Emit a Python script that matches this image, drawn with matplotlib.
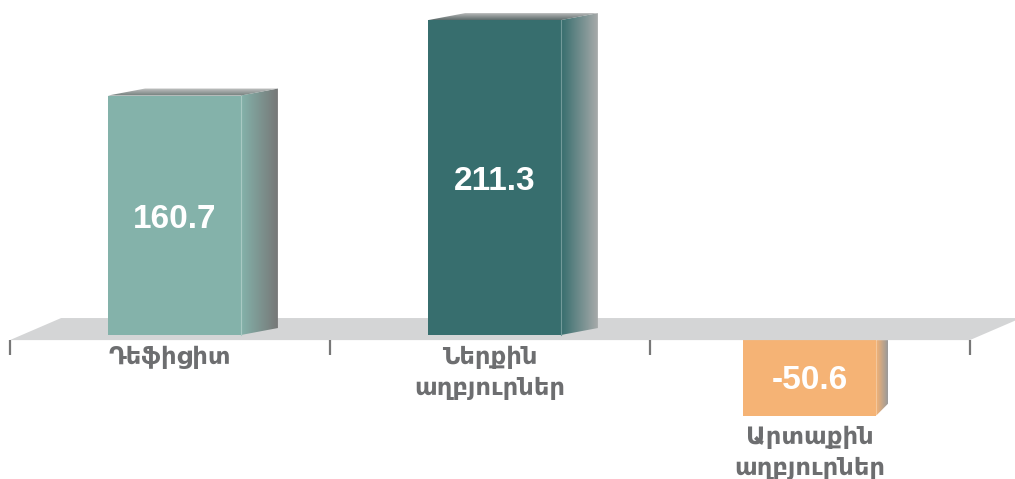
import numpy as np
import matplotlib
matplotlib.use("Agg")
import matplotlib.pyplot as plt
from matplotlib.colors import to_rgb, LinearSegmentedColormap
from matplotlib.patches import Polygon

categories = ["Դեֆիցիտ", "Ներքին\nաղբյուրներ", "Արտաքին\nաղբյուրներ"]
values = [160.7, 211.3, -50.6]
value_labels = ["160.7", "211.3", "-50.6"]
colors = ["#84b2aa", "#376e6e", "#f5b375"]
side_grays = ["#767676", "#a9abab", "#9a9a9a"]

plt.rcParams["font.family"] = ["Liberation Sans", "DejaVu Sans"]

fig = plt.figure(figsize=(10.15, 4.79), dpi=100)
ax = fig.add_axes([0, 0, 1, 1])
ax.set_xlim(-0.531, 2.641)
ax.set_ylim(-96.6, 224.8)
ax.axis("off")

bar_w = 0.415
pos_shift = 0.014            # positive bars sit a bit further back
dx, dy = 0.116, 4.7          # depth of positive bars
ndx, ndy = 0.037, 8.0        # depth of the negative bar (seen from above)
floor_front, floor_back = -3.4, 11.4
floor_shift = 0.16


def mix(c1, c2, t):
    a, b = np.array(to_rgb(c1)), np.array(to_rgb(c2))
    return tuple(a + (b - a) * t)


def grad_face(xs, ys, c1, c2, z, horizontal=True):
    poly = Polygon(list(zip(xs, ys)), closed=True, fc="none", ec="none")
    ax.add_patch(poly)
    cmap = LinearSegmentedColormap.from_list("g", [c1, c2])
    g = np.linspace(0, 1, 64)
    img = g[None, :] if horizontal else g[:, None]
    im = ax.imshow(img, cmap=cmap, aspect="auto", origin="lower",
                   extent=(min(xs), max(xs), min(ys), max(ys)),
                   interpolation="bilinear", zorder=z)
    im.set_clip_path(poly)


# floor
ax.fill([-0.5, 2.5, 2.5 + floor_shift, -0.5 + floor_shift],
        [floor_front, floor_front, floor_back, floor_back],
        color="#d4d5d6", lw=0, zorder=2)

# ticks at category boundaries
for b in np.arange(len(categories) + 1) - 0.5:
    ax.plot([b, b], [floor_front, floor_front - 10], color="#777777", lw=1.6,
            solid_capstyle="butt", zorder=2)

lab_kw = dict(ha="center", va="top", color="#6d6e70", fontsize=17.5,
              fontweight="bold", linespacing=1.45, zorder=6)
val_kw = dict(ha="center", va="center", color="white", fontsize=24,
              fontweight="bold", zorder=6)

for i, (v, c, g) in enumerate(zip(values, colors, side_grays)):
    if v >= 0:
        xc = i + pos_shift
        x0, x1 = xc - bar_w / 2, xc + bar_w / 2
        y0, y1 = 0, v
        grad_face([x1, x1 + dx, x1 + dx, x1], [y0, y0 + dy, y1 + dy, y1],
                  c, g, 3)
        grad_face([x0, x1, x1 + dx, x0 + dx], [y1, y1, y1 + dy, y1 + dy],
                  mix(c, "#6a6a6a", 0.75), "#c4c4c4", 3, horizontal=False)
        ax.fill([x0, x1, x1, x0], [y0, y0, y1, y1], color=c, lw=0, zorder=4)
        ax.plot([x1, x1], [y0, y1], color=mix(c, "#ffffff", 0.3), lw=0.8, zorder=5)
        ax.text(xc, v / 2 - 2.5, value_labels[i], **val_kw)
        ax.text(i, floor_front - 3.5, categories[i], **lab_kw)
    else:
        x0, x1 = i - bar_w / 2, i + bar_w / 2
        y0, y1 = floor_front + v, floor_front
        grad_face([x1, x1 + ndx, x1 + ndx, x1], [y0, y0 + ndy, y1, y1],
                  c, g, 1)
        ax.fill([x0, x1, x1, x0], [y0, y0, y1, y1], color=c, lw=0, zorder=1)
        ax.text(i, (y0 + y1) / 2 - 2, value_labels[i], **val_kw)
        ax.text(i, y0 - 7, categories[i], **lab_kw)

fig.savefig("out.png", dpi=100)
